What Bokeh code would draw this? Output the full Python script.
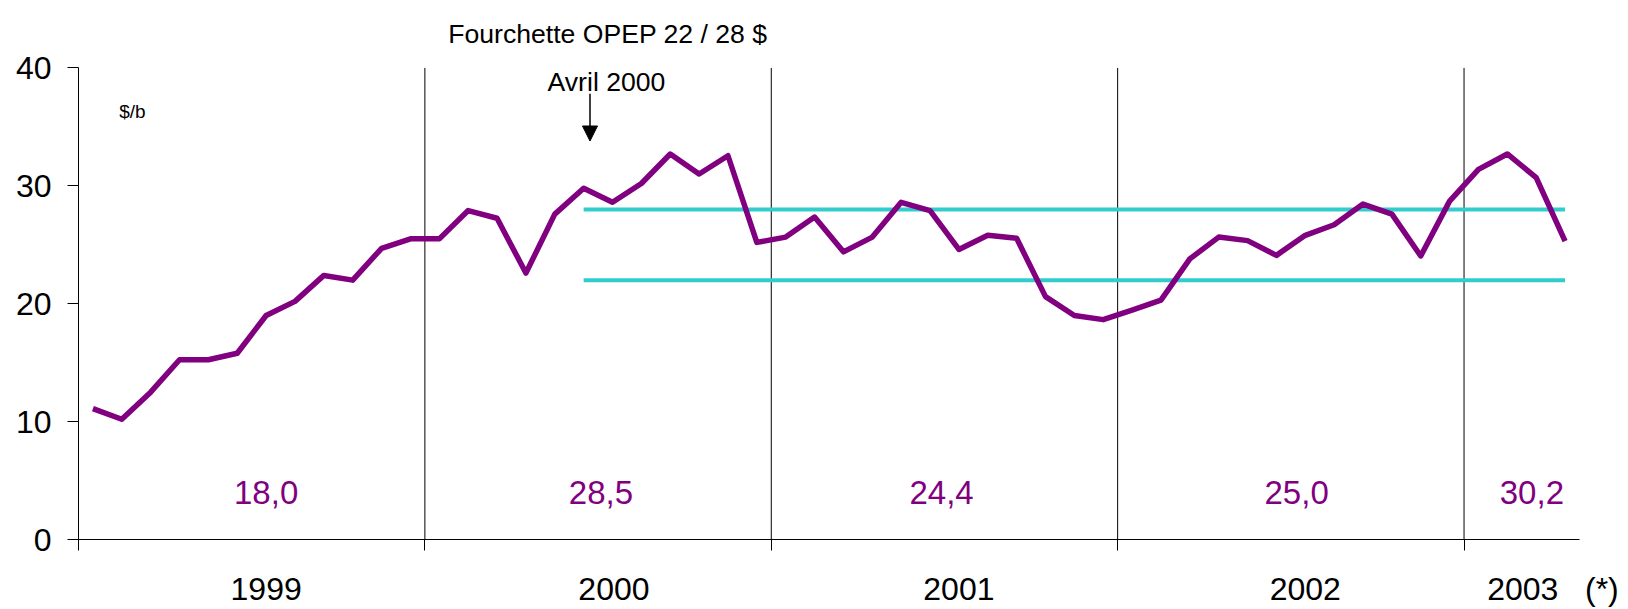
from bokeh.plotting import figure
from bokeh.models import Range1d, FixedTicker, Arrow, NormalHead
from bokeh.core.properties import value
from bokeh.embed import file_html
from bokeh.resources import INLINE

FONT = "Liberation Sans"

# Monthly crude price ($/b), Jan 1999 .. Apr 2003
prices_1999 = [11.1, 10.2, 12.5, 15.25, 15.25, 15.8, 19.0, 20.2, 22.4, 22.0, 24.7, 25.5]
prices_2000 = [25.5, 27.9, 27.25, 22.6, 27.6, 29.8, 28.6, 30.2, 32.7, 31.0, 32.55, 25.2]
prices_2001 = [25.65, 27.35, 24.4, 25.65, 28.6, 27.9, 24.6, 25.8, 25.55, 20.6, 19.0, 18.65]
prices_2002 = [19.45, 20.3, 23.8, 25.65, 25.35, 24.1, 25.8, 26.7, 28.45, 27.6, 24.05, 28.7]
prices_2003 = [31.4, 32.7, 30.7, 25.3]
prices = prices_1999 + prices_2000 + prices_2001 + prices_2002 + prices_2003
months = [i + 0.5 for i in range(len(prices))]

# OPEC band 22 / 28 $, from June 2000 to the last month
band_low = 22
band_high = 28
band_start = 17.5
band_end = 51.5

# yearly averages
avg_labels = ["18,0", "28,5", "24,4", "25,0", "30,2"]
avg_x = [6.5, 18.1, 29.9, 42.2, 50.35]
avg_y = [4.0] * 5

# year labels on the x axis
year_labels = ["1999", "2000", "2001", "2002", "2003\u00a0\u00a0\u00a0(*)"]
year_label_x = [6.5, 18.55, 30.5, 42.5, 51.08]

year_bounds = [0, 12, 24, 36, 48]
separators = [12, 24, 36, 48]
y_ticks = [0, 10, 20, 30, 40]

p = figure(width=1628, height=609, x_range=Range1d(0, 52), y_range=Range1d(0, 45.04),
           output_backend="svg", toolbar_location=None,
           min_border_left=78, min_border_right=49, min_border_top=8, min_border_bottom=70)
p.outline_line_color = None
p.grid.visible = False
p.background_fill_color = "white"

# y axis
p.yaxis.ticker = FixedTicker(ticks=y_ticks)
p.yaxis.bounds = (0, 40)
p.yaxis.major_tick_out = 11
p.yaxis.major_tick_in = 0
p.yaxis.minor_tick_out = 0
p.yaxis.minor_tick_in = 0
p.yaxis.major_label_standoff = 16
p.yaxis.major_label_text_font = FONT
p.yaxis.major_label_text_font_size = "32px"
p.yaxis.major_label_text_color = "black"
p.yaxis.axis_line_color = "black"
p.yaxis.major_tick_line_color = "black"

# x axis: year labels as major ticks (no tick mark), year boundaries as minor ticks
p.xaxis.ticker = FixedTicker(ticks=year_label_x, minor_ticks=year_bounds)
p.xaxis.major_label_overrides = {x: t for x, t in zip(year_label_x, year_labels)}
p.xaxis.major_tick_out = 0
p.xaxis.major_tick_in = 0
p.xaxis.minor_tick_out = 11
p.xaxis.minor_tick_in = 0
p.xaxis.minor_tick_line_color = "black"
p.xaxis.major_label_standoff = 20
p.xaxis.major_label_text_font = FONT
p.xaxis.major_label_text_font_size = "32px"
p.xaxis.major_label_text_color = "black"
p.xaxis.axis_line_color = "black"

# year separators
p.segment(x0=separators, y0=[0] * 4, x1=separators, y1=[40] * 4, line_color="black", line_width=1)

# OPEC band
p.segment(x0=[band_start, band_start], y0=[band_low, band_high], x1=[band_end, band_end],
          y1=[band_low, band_high], line_color="#33CCCC", line_width=4)

# price line
p.line(months, prices, line_color="#800080", line_width=5.5, line_join="round")

# yearly averages
p.text(x=avg_x, y=avg_y, text=avg_labels, text_font=value(FONT), text_font_size="33px",
       text_color="#800080", text_align="center", text_baseline="alphabetic")

# annotations
p.text(x=[18.34], y=[42.87], text=["Fourchette OPEP 22 / 28 $"], text_font=value(FONT),
       text_font_size="26.6px", text_color="black", text_align="center", text_baseline="alphabetic")
p.text(x=[18.29], y=[38.83], text=["Avril 2000"], text_font=value(FONT),
       text_font_size="26.6px", text_color="black", text_align="center", text_baseline="alphabetic")
p.text(x=[1.41], y=[36.34], text=["$/b"], text_font=value(FONT),
       text_font_size="19px", text_color="black", text_align="left", text_baseline="alphabetic")
p.add_layout(Arrow(end=NormalHead(size=15, fill_color="black", line_color="black"),
                   x_start=17.72, y_start=37.81, x_end=17.72, y_end=33.8,
                   line_color="black", line_width=1.5))

open("out.html", "w").write(file_html(p, INLINE))
